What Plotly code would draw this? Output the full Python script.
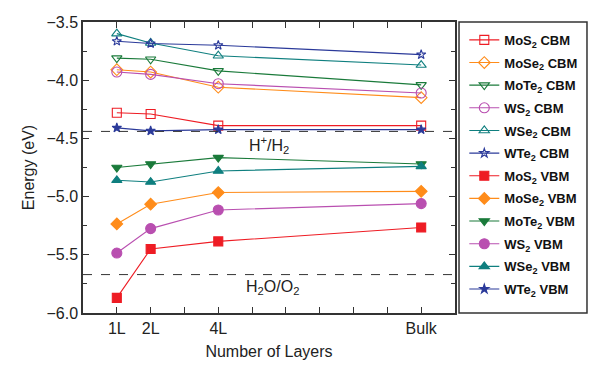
import plotly.graph_objects as go

layers = [1, 2, 4, 10]
layer_labels = ["1L", "2L", "4L", "Bulk"]

materials = ["MoS<sub>2</sub>", "MoSe<sub>2</sub>", "MoTe<sub>2</sub>", "WS<sub>2</sub>", "WSe<sub>2</sub>", "WTe<sub>2</sub>"]
colors = ["#ee1c24", "#ff8c1a", "#1a7a3a", "#b94fb0", "#0f7f7f", "#2b3a9a"]
open_symbols = ["square-open", "diamond-open", "triangle-down-open", "circle-open", "triangle-up-open", "star-open"]
filled_symbols = ["square", "diamond", "triangle-down", "circle", "triangle-up", "star"]
marker_sizes = [9, 9, 9, 10, 9, 7]

cbm_MoS2 = [-4.28, -4.29, -4.39, -4.39]
cbm_MoSe2 = [-3.91, -3.93, -4.06, -4.15]
cbm_MoTe2 = [-3.81, -3.82, -3.92, -4.04]
cbm_WS2 = [-3.93, -3.95, -4.03, -4.11]
cbm_WSe2 = [-3.60, -3.68, -3.79, -3.87]
cbm_WTe2 = [-3.665, -3.685, -3.70, -3.78]

vbm_MoS2 = [-5.87, -5.45, -5.385, -5.265]
vbm_MoSe2 = [-5.235, -5.065, -4.965, -4.955]
vbm_MoTe2 = [-4.75, -4.72, -4.665, -4.72]
vbm_WS2 = [-5.485, -5.275, -5.115, -5.06]
vbm_WSe2 = [-4.86, -4.875, -4.78, -4.74]
vbm_WTe2 = [-4.41, -4.435, -4.425, -4.425]

cbm = [cbm_MoS2, cbm_MoSe2, cbm_MoTe2, cbm_WS2, cbm_WSe2, cbm_WTe2]
vbm = [vbm_MoS2, vbm_MoSe2, vbm_MoTe2, vbm_WS2, vbm_WSe2, vbm_WTe2]

h_level = -4.44
o_level = -5.67

font = "Liberation Sans, Arial, sans-serif"

fig = go.Figure()
idx = 0
for kind, data, syms in [("CBM", cbm, open_symbols), ("VBM", vbm, filled_symbols)]:
    for m, c, s, ms, y in zip(materials, colors, syms, marker_sizes, data):
        fig.add_trace(go.Scatter(
            x=layers, y=y, mode="lines+markers",
            name=f"{m} {kind}",
            legendgroup=f"g{idx}",
            line=dict(color=c, width=1.1),
            marker=dict(symbol=s, size=ms, color=c, line=dict(color=c, width=1.1)),
        ))
        idx += 1

axis_common = dict(
    showline=True, linecolor="#333333", linewidth=1.5, mirror="allticks",
    ticks="inside", tickcolor="#333333", tickwidth=1.2,
    showgrid=False, zeroline=False, automargin=False,
    tickfont=dict(family=font, size=16, color="#222222"),
)

fig.update_xaxes(
    range=[0, 11], tickvals=layers, ticktext=layer_labels, ticklen=6,
    minor=dict(dtick=1, tick0=0, ticks="inside", ticklen=6, tickcolor="#333333", tickwidth=1.2),
    title=dict(text="Number of Layers", font=dict(family=font, size=16, color="#222222"), standoff=10),
    **axis_common,
)
fig.update_yaxes(
    range=[-6.0, -3.5], dtick=0.5, tickformat=".1f", ticklen=6,
    minor=dict(dtick=0.25, ticks="inside", ticklen=4, tickcolor="#333333", tickwidth=1.2),
    title=dict(text="Energy (eV)", font=dict(family=font, size=16, color="#222222"), standoff=8),
    **axis_common,
)

for lvl in [h_level, o_level]:
    fig.add_shape(type="line", xref="paper", x0=0, x1=1, yref="y", y0=lvl, y1=lvl,
                  line=dict(color="#333333", width=1, dash="dash"))

fig.add_annotation(x=5.5, y=-4.56, text="H<sup>+</sup>/H<sub>2</sub>", showarrow=False,
                   font=dict(family=font, size=16, color="#222222"))
fig.add_annotation(x=5.6, y=-5.78, text="H<sub>2</sub>O/O<sub>2</sub>", showarrow=False,
                   font=dict(family=font, size=16, color="#222222"))

# legend frame
fig.add_shape(type="rect", xref="paper", yref="paper", x0=1.0108, x1=1.3548, y0=0, y1=1,
              line=dict(color="#333333", width=1.5), fillcolor="rgba(0,0,0,0)")

# page body has an 8px default margin, so the figure is 8px smaller and shifted
fig.update_layout(
    width=600, height=363,
    margin=dict(l=75, r=153, t=14, b=58),
    plot_bgcolor="white", paper_bgcolor="white",
    legend=dict(x=1.025, y=0.99, xanchor="left", yanchor="top",
                traceorder="grouped", tracegroupgap=2.75,
                font=dict(family=font, size=13, color="#111111", weight="bold"),
                bgcolor="rgba(0,0,0,0)", borderwidth=0, itemwidth=30),
    showlegend=True,
)

fig.write_html("out.html")
